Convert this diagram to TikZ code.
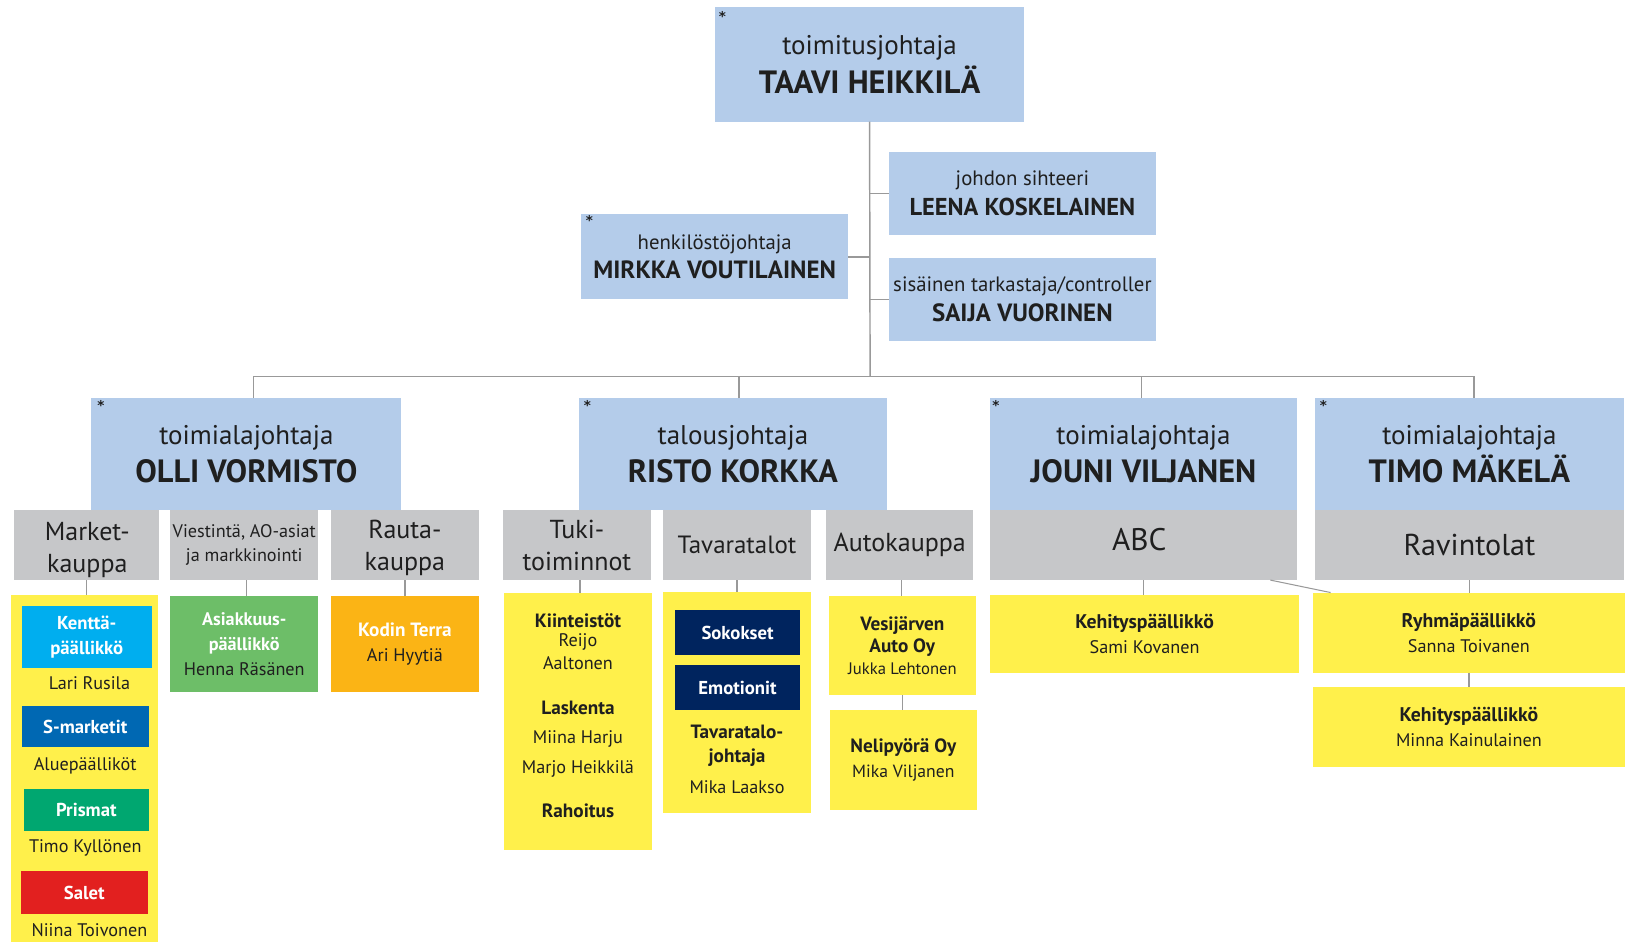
\documentclass[tikz,border=0pt]{standalone}
\usepackage{fontspec}
\setmainfont{PT Sans}
\newfontfamily\starfont{DejaVu Sans}
\definecolor{cblue}{HTML}{B4CCEA}
\definecolor{cgray}{HTML}{C6C7C9}
\definecolor{cyel}{HTML}{FFF04B}
\definecolor{ccyan}{HTML}{00AEEF}
\definecolor{csm}{HTML}{0068B3}
\definecolor{cpri}{HTML}{00A770}
\definecolor{csal}{HTML}{E2201F}
\definecolor{casi}{HTML}{6DBE68}
\definecolor{ckod}{HTML}{FBB415}
\definecolor{cnavy}{HTML}{00245E}
\definecolor{cline}{HTML}{999999}
\definecolor{ink}{HTML}{1F1F1F}
\newcommand\fsz[2]{\fontsize{#1}{#2}\selectfont}
\begin{document}
\begin{tikzpicture}[x=1pt,y=-1pt,
  every node/.style={inner sep=0pt, outer sep=0pt, text=ink},
  box/.style={rectangle, align=center},
  bluebox/.style={box, fill=cblue},
  graybox/.style={box, fill=cgray},
  ybox/.style={box, fill=cyel},
  colbox/.style={box, text=white, font=\fsz{18}{24}\bfseries},
  bigtxt/.style={font=\fsz{26}{37}},
  midtxt/.style={font=\fsz{20}{28.5}},
  graytxt/.style={font=\fsz{25}{30.5}},
  ytxt/.style={align=center, font=\fsz{17.5}{24}},
  ybold/.style={align=center, font=\fsz{18.5}{23}\bfseries},
  startxt/.style={font=\starfont\bfseries\fsz{13}{13}, anchor=north},
  conn/.style={draw=cline, line width=1.4pt}
]
\useasboundingbox (0,0) rectangle (1568,906);
\fill[white] (0,0) rectangle (1568,906);

% top level
\node[bluebox, bigtxt, minimum width=297pt, minimum height=110pt] (taavi) at (836.5,62)
  {toimitusjohtaja\\\fsz{31}{37}\bfseries TAAVI HEIKKILÄ};
\node[bluebox, midtxt, minimum width=257pt, minimum height=80pt] (leena) at (983.5,186)
  {johdon sihteeri\\\fsz{23.5}{28.5}\bfseries LEENA KOSKELAINEN};
\node[bluebox, midtxt, minimum width=257pt, minimum height=82pt] (mirkka) at (687.5,247)
  {henkilöstöjohtaja\\\fsz{24}{28.5}\bfseries MIRKKA VOUTILAINEN};
\node[bluebox, midtxt, minimum width=257pt, minimum height=80pt] (saija) at (983.5,288)
  {sisäinen tarkastaja/controller\\\fsz{24}{28.5}\bfseries SAIJA VUORINEN};

% directors
\node[bluebox, bigtxt, minimum width=298pt, minimum height=108pt] (olli) at (237,437)
  {toimialajohtaja\\\fsz{31}{38}\bfseries OLLI VORMISTO};
\node[bluebox, bigtxt, minimum width=296pt, minimum height=108pt] (risto) at (705,437)
  {talousjohtaja\\\fsz{31}{37}\bfseries RISTO KORKKA};
\node[bluebox, bigtxt, minimum width=296pt, minimum height=108pt] (jouni) at (1100,437)
  {toimialajohtaja\\\fsz{31}{37}\bfseries JOUNI VILJANEN};
\node[bluebox, bigtxt, minimum width=297pt, minimum height=108pt] (timo) at (1413.5,437)
  {toimialajohtaja\\\fsz{31}{36}\bfseries TIMO MÄKELÄ};

% asterisks
\node[startxt] (s1) at (695,11) {*};
\node[startxt] (s2) at (567,207) {*};
\node[startxt] (s3) at (97,385) {*};
\node[startxt] (s4) at (565,385) {*};
\node[startxt] (s5) at (958,385) {*};
\node[startxt] (s6) at (1273,385) {*};

% gray units
\node[graybox, graytxt, minimum width=140pt, minimum height=67pt] (market) at (83,524.5) {};
\node[graytxt, align=center] (markett) at (84,529) {Market-\\kauppa};
\node[graybox, font=\fsz{17.5}{23}, minimum width=142pt, minimum height=67pt] (viest) at (235,524.5) {Viestintä, AO-asiat\\ja markkinointi};
\node[graybox, graytxt, minimum width=143pt, minimum height=67pt] (rauta) at (389.5,524.5) {};
\node[graytxt, align=center] (rautat) at (389.5,527) {Rauta-\\kauppa};
\node[graybox, graytxt, minimum width=142pt, minimum height=67pt] (tuki) at (555,524.5) {Tuki-\\toiminnot};
\node[graybox, font=\fsz{24}{30}, minimum width=142pt, minimum height=67pt] (tava) at (709,524.5) {Tavaratalot};
\node[graybox, graytxt, minimum width=141pt, minimum height=67pt] (auto) at (865.5,524.5) {Autokauppa};
\node[graybox, minimum width=296pt, minimum height=67pt] (abc) at (1100,524.5) {};
\node[font=\fsz{30}{30}] (abct) at (1096,519) {ABC};
\node[graybox, font=\fsz{29}{30}, minimum width=297pt, minimum height=67pt] (rav) at (1413.5,524.5) {Ravintolat};

% Market-kauppa column
\node[ybox, minimum width=141pt, minimum height=336pt] (marketY) at (81.5,740) {};
\node[colbox, fill=ccyan, minimum width=125pt, minimum height=60pt] (kentta) at (83.5,613) {Kenttä-\\päällikkö};
\node[ytxt] (lari) at (86,657) {Lari Rusila};
\node[colbox, fill=csm, minimum width=122pt, minimum height=40pt] (smark) at (82,699) {S-marketit};
\node[ytxt] (alue) at (82,737) {Aluepäälliköt};
\node[colbox, fill=cpri, minimum width=120pt, minimum height=40pt] (prisma) at (83,779) {Prismat};
\node[ytxt] (kyllo) at (82,816) {Timo Kyllönen};
\node[colbox, fill=csal, minimum width=122pt, minimum height=41pt] (salet) at (81,858.5) {Salet};
\node[ytxt] (niina) at (86,895) {Niina Toivonen};

% Viestinta, Rauta
\node[box, fill=casi, ytxt, minimum width=142pt, minimum height=93pt] (asiak) at (235,619.5)
  {\color{white}\bfseries Asiakkuus-\\\color{white}\bfseries päällikkö\\Henna Räsänen};
\node[box, fill=ckod, ytxt, minimum width=143pt, minimum height=93pt] (kodin) at (389.5,619.5)
  {\color{white}\fsz{18.5}{24}\bfseries Kodin Terra\\Ari Hyytiä};

% Tukitoiminnot
\node[ybox, minimum width=142pt, minimum height=248pt] (tukiY) at (556,694) {};
\node[ybold] (kiint) at (556,597) {Kiinteistöt};
\node[ytxt] (reijo) at (556,618) {Reijo};
\node[ytxt] (aalto) at (556,638) {Aaltonen};
\node[ybold] (lask) at (556,681) {Laskenta};
\node[ytxt] (miina) at (556,711) {Miina Harju};
\node[ytxt] (marjo) at (556,740) {Marjo Heikkilä};
\node[ybold] (rahoi) at (556,780) {Rahoitus};

% Tavaratalot
\node[ybox, minimum width=142pt, minimum height=213pt] (tavaY) at (709,675.5) {};
\node[colbox, fill=cnavy, minimum width=121pt, minimum height=43pt] (soko) at (709.5,608.5) {Sokokset};
\node[colbox, fill=cnavy, minimum width=121pt, minimum height=43pt] (emot) at (709.5,661.5) {Emotionit};
\node[ybold] (tvjoht) at (709,717) {Tavaratalo-\\johtaja};
\node[ytxt] (laakso) at (709,757) {Mika Laakso};

% Autokauppa
\node[ybox, font=\fsz{16}{21.5}, minimum width=142pt, minimum height=96pt] (autoY1) at (868,621)
  {\fsz{18.5}{21.5}\bfseries Vesijärven\\\fsz{18.5}{21.5}\bfseries Auto Oy\\Jukka Lehtonen};
\node[ybox, font=\fsz{17}{24}, minimum width=142pt, minimum height=96pt] (autoY2) at (869,731)
  {\fsz{18.5}{24}\bfseries Nelipyörä Oy\\Mika Viljanen};

% ABC, Ravintolat
\node[ybox, ytxt, minimum width=298pt, minimum height=75pt] (abcY) at (1101,609.5)
  {\fsz{19}{25}\bfseries Kehityspäällikkö\\Sami Kovanen};
\node[ybox, ytxt, minimum width=300pt, minimum height=77pt] (ravY1) at (1413,608.5)
  {\fsz{19}{25}\bfseries Ryhmäpäällikkö\\Sanna Toivanen};
\node[ybox, ytxt, minimum width=300pt, minimum height=77pt] (ravY2) at (1413,699.5)
  {\fsz{19}{25}\bfseries Kehityspäällikkö\\Minna Kainulainen};

% connectors
\coordinate (bus) at (837,362);
\draw[conn] (taavi.south) -- (bus);
\draw[conn] (leena.west) -- (leena.west -| bus);
\draw[conn] (saija.west) -- (saija.west -| bus);
\draw[conn] (mirkka.east) -- (mirkka.east -| bus);
\draw[conn] ([xshift=7pt]olli.north) |- (bus);
\draw[conn] ([xshift=6pt]risto.north) |- (bus);
\draw[conn] ([xshift=-2pt]jouni.north) |- (bus);
\draw[conn] ([xshift=4.5pt]timo.north) |- (bus);

\draw[conn] (market.south) -- (market.south |- marketY.north);
\draw[conn] ([xshift=2pt]viest.south) -- ([xshift=2pt]viest.south |- asiak.north);
\draw[conn] (rauta.south) -- (rauta.south |- kodin.north);
\draw[conn] ([xshift=3pt]tuki.south) -- ([xshift=3pt]tuki.south |- tukiY.north);
\draw[conn] (tava.south) -- (tava.south |- tavaY.north);
\draw[conn] ([xshift=1.5pt]auto.south) -- ([xshift=1.5pt]auto.south |- autoY1.north);
\draw[conn] (autoY1.south) -- (autoY1.south |- autoY2.north);
\draw[conn] (abc.south) -- (abc.south |- abcY.north);
\draw[conn] (rav.south) -- (rav.south |- ravY1.north);
\draw[conn] (ravY1.south) -- (ravY1.south |- ravY2.north);
\coordinate (diagA) at (1222,558);
\draw[draw=cline, line width=1pt] (diagA) -- ([xshift=17pt]ravY1.north west);
\end{tikzpicture}
\end{document}
